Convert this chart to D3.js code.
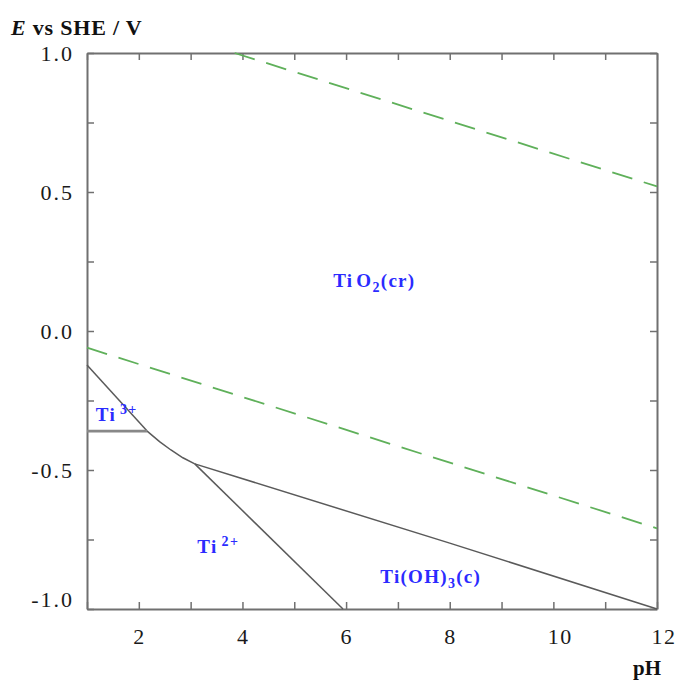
<!DOCTYPE html>
<html><head><meta charset="utf-8">
<script src="https://cdn.jsdelivr.net/npm/d3@7"></script>
<style>body{margin:0;background:#fff}svg{display:block}</style>
</head><body>
<script>
// ---- data ----
const phTicks = [1,2,3,4,5,6,7,8,9,10,11,12];
const phLabels = [2,4,6,8,10,12];
const eTicks = [-1,-0.75,-0.5,-0.25,0,0.25,0.5,0.75,1];
const eLabels = [-1,-0.5,0,0.5,1];
const eLabelText = ["-1.0","-0.5","0.0","0.5","1.0"];

// water stability lines (dashed)
const o2Line = [[3.85,1.0],[12,0.52]];
const h2Line = [[1,-0.06],[12,-0.71]];

// predominance boundaries
const tiO2Ti3 = [[1,-0.122],[2.16,-0.36]];
const tiO2Ti2 = [[2.16,-0.36],[2.4,-0.398],[2.62,-0.428],[2.85,-0.456],[3.08,-0.478]];
const tiO2TiOH3 = [[3.08,-0.478],[8,-0.763],[12,-1.0]];
const ti2TiOH3 = [[3.08,-0.478],[5.94,-1.0]];
const ti3Ti2 = [[1,-0.36],[2.16,-0.36]];

// species labels
const species = [
  {parts:[["Ti",""],["O",""],["2","sub"],["(cr)",""]], ph:5.75, e:0.158},
  {parts:[["Ti",""],["3+","sup"]], ph:1.17, e:-0.325},
  {parts:[["Ti",""],["2+","sup"]], ph:3.13, e:-0.797},
  {parts:[["Ti(OH)",""],["3","sub"],["(c)",""]], ph:6.66, e:-0.905}
];

// ---- drawing ----
const W = 680, H = 680;
const svg = d3.select("body").append("svg").attr("width",W).attr("height",H);
const x = d3.scaleLinear().domain([1,12]).range([87,657]);
const y = d3.scaleLinear().domain([-1,1]).range([609,53]);

const frameColor = "#707070";
const serif = "'Liberation Serif','Times New Roman',serif";

function styleAxis(g){
  g.select(".domain").attr("stroke",frameColor).attr("stroke-width",2);
  g.selectAll(".tick line").attr("stroke",frameColor).attr("stroke-width",1.5);
  g.selectAll("text").attr("font-family",serif).attr("font-size",22).attr("fill","#1a1a1a");
}

// bottom
const gb = svg.append("g").attr("transform",`translate(0,${y(-1)})`)
  .call(d3.axisBottom(x).tickValues(phTicks).tickSizeInner(-7).tickSizeOuter(0)
  .tickFormat(d => phLabels.includes(d) ? String(d) : ""));
styleAxis(gb);
gb.selectAll(".tick text").attr("y",28).attr("dy","0.32em").attr("text-anchor","start").attr("dx",-6).attr("letter-spacing",1.5);

// top
const gt = svg.append("g").attr("transform",`translate(0,${y(1)})`)
  .call(d3.axisTop(x).tickValues(phTicks).tickSizeInner(-7).tickSizeOuter(0).tickFormat(""));
styleAxis(gt);

// left
const gl = svg.append("g").attr("transform",`translate(${x(1)},0)`)
  .call(d3.axisLeft(y).tickValues(eTicks).tickSizeInner(-7).tickSizeOuter(0)
  .tickFormat(d => { const i = eLabels.indexOf(d); return i>=0 ? eLabelText[i] : ""; }));
styleAxis(gl);
gl.selectAll(".tick text").attr("x",-13).attr("letter-spacing",2)
  .attr("dy", d => d === -1 ? "-0.1em" : "0.32em");

// right
const gr = svg.append("g").attr("transform",`translate(${x(12)},0)`)
  .call(d3.axisRight(y).tickValues(eTicks).tickSizeInner(-7).tickSizeOuter(0).tickFormat(""));
styleAxis(gr);

// axis titles
const t1 = svg.append("text").attr("x",11).attr("y",35)
  .attr("font-family",serif).attr("font-weight","bold").attr("font-size",22)
  .attr("letter-spacing",0.8).attr("fill","#111");
t1.append("tspan").attr("font-style","italic").text("E");
t1.append("tspan").text(" vs SHE / V");
svg.append("text").attr("x",661).attr("y",675).attr("text-anchor","end")
  .attr("font-family",serif).attr("font-weight","bold").attr("font-size",21).attr("fill","#111").text("pH");

const line = d3.line().x(d=>x(d[0])).y(d=>y(d[1]));

// dashed water lines
[o2Line,h2Line].forEach(d=>{
  svg.append("path").datum(d).attr("d",line).attr("fill","none")
    .attr("stroke","#5fb05a").attr("stroke-width",1.8).attr("stroke-dasharray","21,12");
});

// boundaries
[tiO2Ti3,tiO2Ti2,tiO2TiOH3,ti2TiOH3].forEach(d=>{
  svg.append("path").datum(d).attr("d",line).attr("fill","none")
    .attr("stroke","#5a5a5a").attr("stroke-width",1.5);
});
svg.append("path").datum(ti3Ti2).attr("d",line).attr("fill","none")
  .attr("stroke","#888").attr("stroke-width",2.6);

// species labels
species.forEach(s=>{
  const t = svg.append("text").attr("x",x(s.ph)).attr("y",y(s.e))
    .attr("font-family",serif).attr("font-weight","bold").attr("font-size",19)
    .attr("fill","#2b2bff").attr("letter-spacing",1.3);
  let shift = 0;
  s.parts.forEach((p,i)=>{
    const ts = t.append("tspan").text(p[0]);
    let target = 0;
    if(p[1]==="sub"){ target = 5; ts.attr("font-size",14); }
    if(p[1]==="sup"){ target = -7; ts.attr("font-size",14).attr("dx",4); }
    if(p[0]==="O" && i===1) ts.attr("dx",3);
    ts.attr("dy", target - shift);
    shift = target;
  });
});
</script>
</body></html>
